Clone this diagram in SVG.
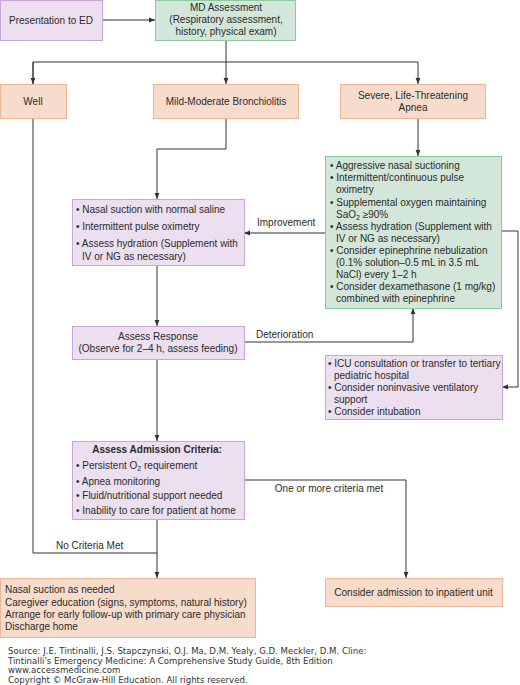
<svg xmlns="http://www.w3.org/2000/svg" width="520" height="685" viewBox="0 0 520 685">
<defs>
<marker id="ah" viewBox="0 0 10 10" refX="10" refY="5" markerWidth="6" markerHeight="6" markerUnits="userSpaceOnUse" orient="auto">
<path d="M0,1 L10,5 L0,9 z" fill="#333"/>
</marker>
</defs>
<style>
text{font-family:"Liberation Sans",Arial,sans-serif;font-size:10px;fill:#2b2b2b}
.c{text-anchor:middle}
.b{font-weight:bold}
.src{font-family:"DejaVu Sans",Verdana,sans-serif;font-size:8.6px;fill:#333}
.p{fill:#ebdff0;stroke:#c9a5d8;stroke-width:1}
.g{fill:#d3e6da;stroke:#8ec9a0;stroke-width:1}
.o{fill:#f8dccb;stroke:#eeb597;stroke-width:1}
.ln{fill:none;stroke:#333;stroke-width:1}
.sub{font-size:7px}
</style>
<g id="connectors">
<path class="ln" d="M102,20 H155" marker-end="url(#ah)"/>
<path class="ln" d="M226,40 V84" marker-end="url(#ah)"/>
<path class="ln" d="M33,84 V62 H418 V84" marker-end="url(#ah)"/>
<path class="ln" d="M33,62 V84" marker-end="url(#ah)"/>
<path class="ln" d="M226,118 V149 H157 V199" marker-end="url(#ah)"/>
<path class="ln" d="M418,118 V156" marker-end="url(#ah)"/>
<path class="ln" d="M325,233 H244" marker-end="url(#ah)"/>
<path class="ln" d="M157,265 V326" marker-end="url(#ah)"/>
<path class="ln" d="M244,342 H413 V308" marker-end="url(#ah)"/>
<path class="ln" d="M501,231 H518 V387 H502" marker-end="url(#ah)"/>
<path class="ln" d="M157,359 V441" marker-end="url(#ah)"/>
<path class="ln" d="M244,480 H406 V578" marker-end="url(#ah)"/>
<path class="ln" d="M157,519 V578" marker-end="url(#ah)"/>
<path class="ln" d="M33,118 V553 H157"/>
<text x="257" y="225.5">Improvement</text>
<text x="256" y="337.5">Deterioration</text>
<text x="329" y="491.5" class="c">One or more criteria met</text>
<text x="56" y="548.5">No Criteria Met</text>
</g>
<g id="presentation">
<rect class="p" x="0.5" y="0.5" width="102" height="40"/>
<text x="51" y="23.5" class="c">Presentation to ED</text>
</g>
<g id="md-assessment">
<rect class="g" x="155.5" y="0.5" width="140" height="40"/>
<text x="226" y="10.5" class="c">MD Assessment</text>
<text x="226" y="22.5" class="c">(Respiratory assessment,</text>
<text x="226" y="34.5" class="c">history, physical exam)</text>
</g>
<g id="well">
<rect class="o" x="0.5" y="84.5" width="66" height="34"/>
<text x="33" y="104.5" class="c">Well</text>
</g>
<g id="mild">
<rect class="o" x="153.5" y="84.5" width="145" height="34"/>
<text x="226" y="104.5" class="c">Mild-Moderate Bronchiolitis</text>
</g>
<g id="severe">
<rect class="o" x="340.5" y="84.5" width="145" height="34"/>
<text x="413" y="99" class="c">Severe, Life-Threatening</text>
<text x="413" y="111" class="c">Apnea</text>
</g>
<g id="nasal-suction">
<rect class="p" x="72.5" y="199.5" width="172" height="66"/>
<text x="76" y="212.5">• Nasal suction with normal saline</text>
<text x="76" y="229.5">• Intermittent pulse oximetry</text>
<text x="76" y="246.5">• Assess hydration (Supplement with</text>
<text x="82" y="259.5">IV or NG as necessary)</text>
</g>
<g id="severe-care">
<rect class="g" x="325.5" y="156.5" width="176" height="152"/>
<text x="330" y="168.5">• Aggressive nasal suctioning</text>
<text x="330" y="180.8">• Intermittent/continuous pulse</text>
<text x="336" y="192.8">oximetry</text>
<text x="330" y="205.5">• Supplemental oxygen maintaining</text>
<text x="336" y="217.5">SaO<tspan class="sub" dy="2.5">2</tspan><tspan dy="-2.5"> ≥90%</tspan></text>
<text x="330" y="229.5">• Assess hydration (Supplement with</text>
<text x="336" y="241.5">IV or NG as necessary)</text>
<text x="330" y="253.5">• Consider epinephrine nebulization</text>
<text x="336" y="265.8">(0.1% solution–0.5 mL in 3.5 mL</text>
<text x="336" y="277.8">NaCl) every 1–2 h</text>
<text x="330" y="289.8">• Consider dexamethasone (1 mg/kg)</text>
<text x="336" y="301.8">combined with epinephrine</text>
</g>
<g id="assess-response">
<rect class="p" x="72.5" y="326.5" width="172" height="33"/>
<text x="158" y="339.5" class="c">Assess Response</text>
<text x="158" y="351.5" class="c">(Observe for 2–4 h, assess feeding)</text>
</g>
<g id="icu">
<rect class="p" x="325.5" y="355.5" width="177" height="64"/>
<text x="328" y="366.5">• ICU consultation or transfer to tertiary</text>
<text x="334" y="378.5">pediatric hospital</text>
<text x="328" y="390.5">• Consider noninvasive ventilatory</text>
<text x="334" y="402.5">support</text>
<text x="328" y="414.5">• Consider intubation</text>
</g>
<g id="admission-criteria">
<rect class="p" x="72.5" y="441.5" width="172" height="78"/>
<text x="157" y="452.5" class="c b">Assess Admission Criteria:</text>
<text x="76" y="468.5">• Persistent O<tspan class="sub" dy="2.5">2</tspan><tspan dy="-2.5"> requirement</tspan></text>
<text x="76" y="485.2">• Apnea monitoring</text>
<text x="76" y="499.2">• Fluid/nutritional support needed</text>
<text x="76" y="513.8">• Inability to care for patient at home</text>
</g>
<g id="discharge">
<rect class="o" x="0.5" y="578.5" width="255" height="59"/>
<text x="5" y="592.8">Nasal suction as needed</text>
<text x="5" y="605.5">Caregiver education (signs, symptoms, natural history)</text>
<text x="5" y="617.8">Arrange for early follow-up with primary care physician</text>
<text x="5" y="629.5">Discharge home</text>
</g>
<g id="admission">
<rect class="o" x="325.5" y="578.5" width="177" height="28"/>
<text x="413.5" y="595.5" class="c">Consider admission to inpatient unit</text>
</g>
<g id="source">
<text class="src" x="8" y="654">Source: J.E. Tintinalli, J.S. Stapczynski, O.J. Ma, D.M. Yealy, G.D. Meckler, D.M. Cline:</text>
<text class="src" x="8" y="663.5">Tintinalli's Emergency Medicine: A Comprehensive Study Guide, 8th Edition</text>
<text class="src" x="8" y="673">www.accessmedicine.com</text>
<text class="src" x="8" y="682.5">Copyright © McGraw-Hill Education.  All rights reserved.</text>
</g>
</svg>
